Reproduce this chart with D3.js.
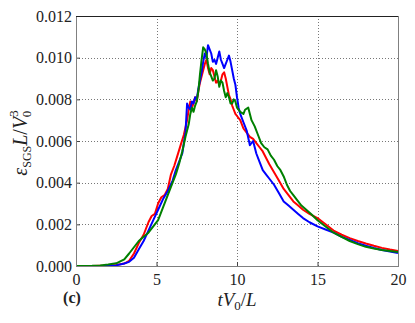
<!DOCTYPE html>
<html>
<head>
<meta charset="utf-8">
<script src="https://cdn.jsdelivr.net/npm/d3@7"></script>
<style>
    html, body { margin: 0; padding: 0; background: #fff; }
    svg text { font-family: "Liberation Serif", "DejaVu Serif", serif; fill: #222; }
</style>
</head>
<body>
<div id="chart"></div>
<script>
// time axis (tV0/L) and dissipation values for each run
var redT = [0, 1, 2, 2.5, 3, 3.3, 3.6, 3.9, 4.2, 4.5, 4.7, 4.9, 5.1, 5.3, 5.5, 5.7, 5.9, 6.1, 6.3, 6.5, 6.7, 6.9, 7.0, 7.1, 7.2, 7.3, 7.4, 7.5, 7.6, 7.7, 7.8, 7.9, 8.0, 8.1, 8.2, 8.3, 8.4, 8.5, 8.6, 8.7, 8.8, 8.9, 9.0, 9.1, 9.2, 9.3, 9.4, 9.5, 9.6, 9.7, 9.8, 9.9, 10, 10.2, 10.4, 10.6, 10.8, 11, 11.2, 11.4, 11.6, 11.8, 12, 12.3, 12.6, 12.9, 13.2, 13.5, 13.8, 14.1, 14.5, 15, 15.5, 16, 16.5, 17, 17.5, 18, 18.5, 19, 19.5, 20];
var redE = [0, 0, 0.00002, 0.00005, 0.00012, 0.00025, 0.0006, 0.0011, 0.0015, 0.0021, 0.0024, 0.0025, 0.003, 0.0033, 0.0034, 0.0037, 0.0044, 0.0048, 0.0053, 0.0058, 0.0063, 0.007, 0.0075, 0.0079, 0.0076, 0.0078, 0.0081, 0.0079, 0.0084, 0.0088, 0.0091, 0.0094, 0.0097, 0.0099, 0.0095, 0.0092, 0.0095, 0.0094, 0.0091, 0.0088, 0.0089, 0.0087, 0.0089, 0.0092, 0.0093, 0.0090, 0.0086, 0.0082, 0.0080, 0.0077, 0.0075, 0.0073, 0.0072, 0.0070, 0.0066, 0.0064, 0.0062, 0.0061, 0.0059, 0.0057, 0.0055, 0.0052, 0.0049, 0.0045, 0.0041, 0.0037, 0.0034, 0.0031, 0.0029, 0.0027, 0.0025, 0.0023, 0.0020, 0.0017, 0.0015, 0.00134, 0.0012, 0.00108, 0.00097, 0.00087, 0.00079, 0.00072];

var blueT = [0, 1, 2, 2.5, 3, 3.3, 3.6, 3.9, 4.2, 4.5, 4.8, 5.1, 5.4, 5.7, 6.0, 6.2, 6.4, 6.6, 6.8, 6.9, 7.0, 7.1, 7.2, 7.3, 7.4, 7.5, 7.6, 7.7, 7.8, 7.9, 8.0, 8.1, 8.2, 8.3, 8.4, 8.5, 8.6, 8.7, 8.8, 8.9, 9.0, 9.1, 9.2, 9.3, 9.4, 9.5, 9.6, 9.7, 9.8, 9.9, 10, 10.1, 10.2, 10.4, 10.6, 10.8, 11, 11.2, 11.4, 11.6, 11.8, 12, 12.3, 12.6, 12.9, 13.2, 13.5, 13.8, 14.1, 14.5, 15, 15.5, 16, 16.5, 17, 17.5, 18, 18.5, 19, 19.5, 20];
var blueE = [0, 0, 0.00001, 0.00003, 0.00012, 0.0002, 0.0004, 0.0008, 0.0012, 0.0017, 0.0022, 0.0027, 0.0032, 0.0036, 0.0041, 0.0046, 0.0050, 0.0054, 0.0064, 0.0078, 0.0076, 0.0075, 0.0079, 0.0078, 0.0081, 0.0080, 0.0085, 0.0089, 0.0093, 0.0098, 0.0102, 0.0100, 0.0106, 0.0104, 0.0102, 0.0098, 0.0099, 0.0097, 0.0100, 0.0103, 0.0099, 0.0097, 0.0095, 0.0097, 0.0099, 0.0101, 0.0098, 0.0094, 0.0090, 0.0087, 0.0081, 0.0076, 0.0073, 0.0069, 0.0065, 0.0058, 0.0060, 0.0054, 0.0050, 0.0046, 0.0044, 0.0042, 0.0039, 0.0035, 0.0031, 0.0029, 0.0027, 0.0025, 0.0023, 0.0021, 0.0019, 0.00175, 0.0016, 0.0014, 0.00125, 0.0011, 0.00097, 0.00086, 0.00077, 0.00069, 0.00062];

var greenT = [0, 1, 1.5, 2, 2.5, 3, 3.3, 3.6, 3.9, 4.2, 4.5, 4.8, 5.1, 5.4, 5.7, 6.0, 6.2, 6.4, 6.6, 6.8, 7.0, 7.1, 7.2, 7.3, 7.4, 7.5, 7.6, 7.7, 7.8, 7.9, 8.0, 8.1, 8.2, 8.3, 8.4, 8.5, 8.6, 8.7, 8.8, 8.9, 9.0, 9.1, 9.2, 9.3, 9.4, 9.5, 9.6, 9.7, 9.8, 9.9, 10, 10.2, 10.4, 10.5, 10.7, 10.9, 11.1, 11.3, 11.5, 11.7, 11.9, 12.1, 12.3, 12.5, 12.7, 12.9, 13.1, 13.3, 13.5, 13.7, 14.0, 14.3, 14.6, 15, 15.5, 16, 16.5, 17, 17.5, 18, 18.5, 19, 19.5, 20];
var greenE = [0, 0.00001, 0.00003, 0.00007, 0.00013, 0.00032, 0.0006, 0.0009, 0.0012, 0.0014, 0.0016, 0.0019, 0.0022, 0.0028, 0.0034, 0.0040, 0.0044, 0.0049, 0.0055, 0.0062, 0.0068, 0.0073, 0.0076, 0.0074, 0.0077, 0.0079, 0.0084, 0.0092, 0.0099, 0.0105, 0.0104, 0.0102, 0.0097, 0.0093, 0.0091, 0.0089, 0.0090, 0.0094, 0.0091, 0.0086, 0.0089, 0.0088, 0.0084, 0.0081, 0.0083, 0.0081, 0.0078, 0.0078, 0.0080, 0.0079, 0.0076, 0.0074, 0.0073, 0.0075, 0.0076, 0.0070, 0.0067, 0.0063, 0.0059, 0.0057, 0.0056, 0.0053, 0.0051, 0.0048, 0.0046, 0.0043, 0.0039, 0.0036, 0.0034, 0.0032, 0.0029, 0.0027, 0.0025, 0.0022, 0.0019, 0.0016, 0.0014, 0.0012, 0.00105, 0.00092, 0.00084, 0.00077, 0.00072, 0.00067];

var xTicks = [0, 5, 10, 15, 20];
var yTicks = [0, 0.002, 0.004, 0.006, 0.008, 0.010, 0.012];

(function () {
    "use strict";

    var width = 415,
        height = 323,
        margin = { top: 16, right: 17, bottom: 57, left: 76 },
        innerW = width - margin.left - margin.right,
        innerH = height - margin.top - margin.bottom,
        series = [
            { t: redT, e: redE, color: "#ff0000" },
            { t: blueT, e: blueE, color: "#0000ff" },
            { t: greenT, e: greenE, color: "#008000" }
        ],
        svg, g, x, y, line;

    x = d3.scaleLinear().domain([0, 20]).range([0, innerW]);
    y = d3.scaleLinear().domain([0, 0.012]).range([innerH, 0]);

    svg = d3.select("#chart")
        .append("svg")
        .attr("width", width)
        .attr("height", height);

    g = svg.append("g")
        .attr("transform", "translate(" + margin.left + "," + margin.top + ")");

    // dotted grid
    g.append("g")
        .selectAll("line.gx")
        .data(xTicks.slice(1, -1))
        .enter()
        .append("line")
        .attr("x1", function (d) { return Math.round(x(d)) + 0.5; })
        .attr("x2", function (d) { return Math.round(x(d)) + 0.5; })
        .attr("y1", 0)
        .attr("y2", innerH)
        .attr("stroke", "#777")
        .attr("stroke-dasharray", "1,2");

    g.append("g")
        .selectAll("line.gy")
        .data(yTicks.slice(1, -1))
        .enter()
        .append("line")
        .attr("y1", function (d) { return Math.round(y(d)) + 0.5; })
        .attr("y2", function (d) { return Math.round(y(d)) + 0.5; })
        .attr("x1", 0)
        .attr("x2", innerW)
        .attr("stroke", "#777")
        .attr("stroke-dasharray", "1,2");

    line = d3.line()
        .x(function (d) { return x(d[0]); })
        .y(function (d) { return y(d[1]); });

    series.forEach(function (s) {
        var pts = s.t.map(function (t, i) { return [t, s.e[i]]; });
        g.append("path")
            .datum(pts)
            .attr("fill", "none")
            .attr("stroke", s.color)
            .attr("stroke-width", 2)
            .attr("stroke-linejoin", "round")
            .attr("d", line);
    });

    // axes, ticks pointing inward
    var xAxis = g.append("g")
        .attr("transform", "translate(0," + innerH + ")")
        .call(d3.axisBottom(x).tickValues(xTicks).tickSize(-4).tickPadding(8).tickFormat(d3.format("d")));

    var yAxis = g.append("g")
        .call(d3.axisLeft(y).tickValues(yTicks).tickSize(-4).tickPadding(4).tickFormat(d3.format(".3f")));

    [xAxis, yAxis].forEach(function (a) {
        a.select(".domain").remove();
        a.selectAll(".tick line").attr("stroke", "#444");
        a.selectAll("text")
            .style("font-family", "'Liberation Serif', serif")
            .style("font-size", "16px")
            .attr("fill", "#222");
    });

    // frame
    g.append("rect")
        .attr("x", 0.5)
        .attr("y", 0.5)
        .attr("width", innerW)
        .attr("height", innerH)
        .attr("fill", "none")
        .attr("stroke", "#808080");
    g.append("line")
        .attr("x1", 0).attr("x2", innerW)
        .attr("y1", 0.5).attr("y2", 0.5)
        .attr("stroke", "#222");

    // x label: tV0/L
    var xl = svg.append("text")
        .attr("x", margin.left + innerW / 2)
        .attr("y", 306)
        .attr("text-anchor", "middle")
        .style("font-size", "19px");
    xl.append("tspan").style("font-style", "italic").text("tV");
    xl.append("tspan").attr("dy", 4).style("font-size", "13px").text("0");
    xl.append("tspan").attr("dy", -4).text("/");
    xl.append("tspan").style("font-style", "italic").text("L");

    // y label: eps_SGS L / V0^3
    var yl = svg.append("text")
        .attr("transform", "translate(27," + (margin.top + innerH / 2 + 2) + ") rotate(-90)")
        .attr("text-anchor", "middle")
        .style("font-size", "20px");
    yl.append("tspan").style("font-style", "italic").text("ε");
    yl.append("tspan").attr("dy", 4).style("font-size", "12px").text("SGS");
    yl.append("tspan").attr("dy", -4).style("font-style", "italic").text("L");
    yl.append("tspan").text("/");
    yl.append("tspan").style("font-style", "italic").text("V");
    yl.append("tspan").attr("dy", -9).style("font-size", "13px").text("3");
    yl.append("tspan").attr("dx", -7).attr("dy", 13).style("font-size", "13px").text("0");

    // panel tag
    svg.append("text")
        .attr("x", 72)
        .attr("y", 303)
        .attr("text-anchor", "middle")
        .style("font-size", "16px")
        .style("font-weight", "bold")
        .text("(c)");
}());
</script>
</body>
</html>
